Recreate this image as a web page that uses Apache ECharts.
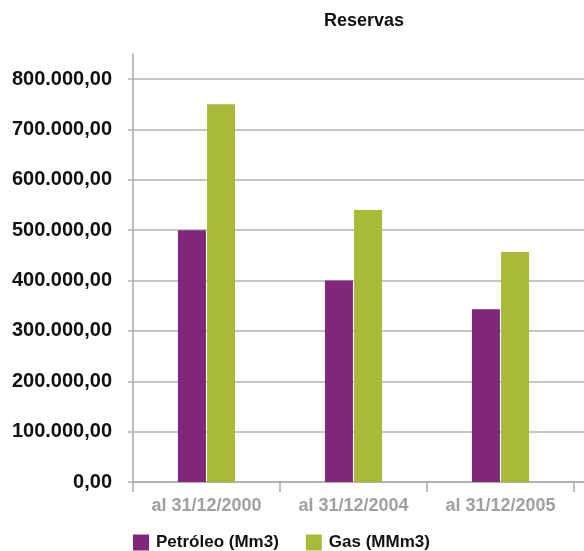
<!DOCTYPE html>
<html>
<head>
<meta charset="utf-8">
<script src="https://cdn.jsdelivr.net/npm/echarts@6/dist/echarts.min.js"></script>
<style>
html,body{margin:0;padding:0;background:#fff;}
#chart{width:584px;height:551px;}
</style>
</head>
<body>
<div id="chart"></div>
<script>
const categories = ['al 31/12/2000', 'al 31/12/2004', 'al 31/12/2005'];
const petroleo = [500000, 400000, 343000];
const gas = [750000, 540000, 457000];
const seriesNames = ['Petróleo (Mm3)', 'Gas (MMm3)'];
const titleText = 'Reservas';

function fmt(v) {
  const s = String(Math.round(v));
  return s.replace(/\B(?=(\d{3})+(?!\d))/g, '.') + ',00';
}

const FONT = '"Liberation Sans", Arial, sans-serif';
const chart = echarts.init(document.getElementById('chart'));
chart.setOption({
  animation: false,
  backgroundColor: '#fff',
  title: {
    text: titleText, left: 319, top: 7,
    textStyle: { fontFamily: FONT, fontSize: 18, fontWeight: 'bold', color: '#111' }
  },
  legend: {
    left: 128, top: 529, itemWidth: 16, itemHeight: 16, itemGap: 27,
    icon: 'rect',
    textStyle: { fontFamily: FONT, fontSize: 17, fontWeight: 'bold', color: '#111', padding: [0, 0, 0, 2] },
    data: seriesNames
  },
  grid: [
    { left: 133, right: 0, top: 79, bottom: 69 },
    { left: 133, right: 10, top: 54, bottom: 69 }
  ],
  xAxis: [
    { gridIndex: 0, type: 'category', data: categories,
      axisLine: { show: true, lineStyle: { color: '#aaaaaa', width: 1.5 } },
      axisTick: { show: false }, axisLabel: { show: false } },
    { gridIndex: 1, type: 'category', data: categories,
      axisLine: { show: false },
      axisTick: { show: true, length: 10, lineStyle: { color: '#aaaaaa', width: 1.5 } },
      axisLabel: { fontFamily: FONT, fontSize: 18, fontWeight: 'bold', color: '#a0a0a0', margin: 15 } }
  ],
  yAxis: [
    { gridIndex: 0, type: 'value', min: 0, max: 800000, interval: 100000,
      axisLine: { show: false },
      axisTick: { show: true, length: 5, lineStyle: { color: '#b3b3b3', width: 1.5 } },
      splitLine: { show: true, lineStyle: { color: '#b3b3b3', width: 1.5 } },
      axisLabel: { formatter: fmt, fontFamily: FONT, fontSize: 20, fontWeight: 'bold', color: '#111', margin: 21, padding: [0, 0, 5, 0] } },
    { gridIndex: 1, type: 'value', min: 0, max: 850000,
      axisLine: { show: true, lineStyle: { color: '#aaaaaa', width: 1.5 } },
      axisTick: { show: false }, splitLine: { show: false }, axisLabel: { show: false } }
  ],
  series: [
    { name: seriesNames[0], type: 'bar', xAxisIndex: 1, yAxisIndex: 1, data: petroleo,
      barWidth: 28, barGap: '4%', itemStyle: { color: '#80277c' } },
    { name: seriesNames[1], type: 'bar', xAxisIndex: 1, yAxisIndex: 1, data: gas,
      barWidth: 28, barGap: '4%', itemStyle: { color: '#aaba38' } }
  ]
});
</script>
</body>
</html>
